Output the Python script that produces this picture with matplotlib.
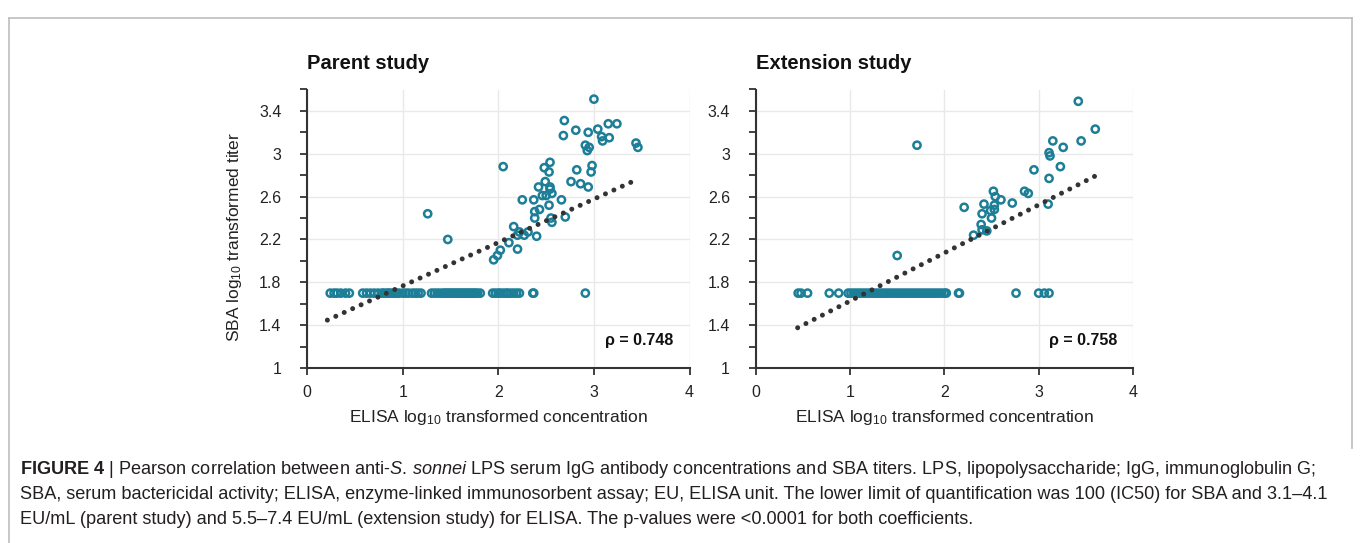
import matplotlib
matplotlib.use('Agg')
import matplotlib.pyplot as plt
from matplotlib.ticker import MultipleLocator, FuncFormatter
from matplotlib.lines import Line2D

plt.rcParams['font.family'] = ['Liberation Sans', 'DejaVu Sans']
plt.rcParams['mathtext.fontset'] = 'custom'
plt.rcParams['mathtext.rm'] = 'Liberation Sans'
plt.rcParams['mathtext.it'] = 'Liberation Sans:italic'
plt.rcParams['mathtext.bf'] = 'Liberation Sans:bold'

# ---------------- data ----------------
baseline_y = 1.699  # log10(50): below LLOQ

parent_x = [3.00, 2.69, 2.68, 2.81, 2.94, 3.04, 3.15, 3.24, 3.08, 3.09, 3.16, 2.91, 2.95,
            2.93, 3.44, 3.46, 2.05, 2.54, 2.48, 2.53, 2.82, 2.98, 2.97, 2.49, 2.42, 2.54,
            2.54, 2.76, 2.86, 2.94, 2.46, 2.50, 2.56, 2.25, 2.37, 2.66, 2.53, 2.43, 2.38,
            2.38, 2.55, 2.56, 2.70, 1.26, 1.47, 2.16, 2.22, 2.27, 2.31, 2.20, 2.40, 2.11,
            2.20, 2.02, 1.99, 1.95]
parent_y = [3.51, 3.31, 3.17, 3.22, 3.20, 3.23, 3.28, 3.28, 3.16, 3.12, 3.15, 3.08, 3.06,
            3.03, 3.10, 3.06, 2.88, 2.92, 2.87, 2.83, 2.85, 2.89, 2.83, 2.74, 2.69, 2.69,
            2.67, 2.74, 2.72, 2.69, 2.61, 2.61, 2.63, 2.57, 2.57, 2.57, 2.52, 2.48, 2.46,
            2.40, 2.40, 2.36, 2.41, 2.44, 2.20, 2.32, 2.27, 2.24, 2.27, 2.24, 2.23, 2.17,
            2.11, 2.10, 2.05, 2.01]
parent_base_x = [0.24, 0.28, 0.31, 0.35, 0.40, 0.44,
                 0.58, 0.62, 0.66, 0.70, 0.74, 0.78, 0.80, 0.83, 0.85, 0.87, 0.90, 0.93,
                 0.96, 1.00, 1.03, 1.06, 1.10, 1.13, 1.16, 1.19,
                 1.30, 1.33, 1.36, 1.39, 1.42, 1.44, 1.46, 1.48, 1.50, 1.52, 1.54, 1.56,
                 1.58, 1.60, 1.62, 1.64, 1.66, 1.68, 1.70, 1.72, 1.74, 1.76, 1.78, 1.81,
                 1.94, 1.97, 2.00, 2.02, 2.05, 2.08, 2.10, 2.13, 2.16, 2.19, 2.22,
                 2.36, 2.37, 2.91]

ext_x = [3.42, 3.60, 3.45, 3.15, 3.26, 3.11, 3.12, 1.71, 2.95, 3.23, 3.11, 3.10, 2.52,
         2.54, 2.60, 2.85, 2.89, 2.72, 2.21, 2.42, 2.53, 2.49, 2.53, 2.40, 2.50, 2.39,
         2.40, 2.45, 2.31, 1.50]
ext_y = [3.49, 3.23, 3.12, 3.12, 3.06, 3.01, 2.98, 3.08, 2.85, 2.88, 2.77, 2.53, 2.65,
         2.60, 2.57, 2.65, 2.63, 2.54, 2.50, 2.53, 2.52, 2.47, 2.48, 2.44, 2.40, 2.34,
         2.29, 2.28, 2.24, 2.05]
ext_base_x = [0.45, 0.48, 0.55, 0.78, 0.88,
              0.98, 1.01, 1.04, 1.07, 1.10, 1.13, 1.16, 1.19, 1.22, 1.25, 1.28, 1.31,
              1.34, 1.37, 1.40, 1.43, 1.46, 1.49, 1.52, 1.55, 1.58, 1.61, 1.64, 1.67,
              1.70, 1.73, 1.76, 1.79, 1.82, 1.85, 1.88, 1.91, 1.94, 1.97, 2.00, 2.02,
              2.15, 2.16, 2.76, 3.00, 3.06, 3.11]

# trend lines: (slope, intercept, x start, x end)
parent_fit = (0.405, 1.362, 0.21, 3.44)
ext_fit = (0.449, 1.176, 0.445, 3.62)

titles = ['Parent study', 'Extension study']
rho_labels = ['ρ = 0.748', 'ρ = 0.758']
x_ticks = [0, 1, 2, 3, 4]
y_ticks = [1, 1.4, 1.8, 2.2, 2.6, 3.0, 3.4]

caption_lines = [
    r"$\mathbf{FIGURE\ 4}$ | Pearson correlation between anti-$\mathit{S.\,sonnei}$ LPS serum IgG antibody concentrations and SBA titers. LPS, lipopolysaccharide; IgG, immunoglobulin G;",
    "SBA, serum bactericidal activity; ELISA, enzyme-linked immunosorbent assay; EU, ELISA unit. The lower limit of quantification was 100 (IC50) for SBA and 3.1–4.1",
    "EU/mL (parent study) and 5.5–7.4 EU/mL (extension study) for ELISA. The p-values were <0.0001 for both coefficients.",
]

# ---------------- figure ----------------
W, H = 1360, 543
fig = plt.figure(figsize=(W / 100, H / 100), dpi=100)
fig.patch.set_facecolor('white')

TEAL = '#1d7f97'
DARK = '#333333'


def px_axes(x0, x1, ytop, ybot):
    return fig.add_axes([x0 / W, (H - ybot) / H, (x1 - x0) / W, (ybot - ytop) / H])


ax_l = px_axes(307.3, 689.5, 89.5, 368)
ax_r = px_axes(755.7, 1133.0, 89.5, 368)

panels = [
    (ax_l, parent_x, parent_y, parent_base_x, parent_fit),
    (ax_r, ext_x, ext_y, ext_base_x, ext_fit),
]

for i, (ax, xs, ys, bx, fit) in enumerate(panels):
    ax.set_xlim(0, 4)
    ax.set_ylim(1, 3.6)
    ax.set_xticks(x_ticks)
    ax.set_yticks(y_ticks)
    ax.yaxis.set_minor_locator(MultipleLocator(0.2))
    fmt = FuncFormatter(lambda v, p: '%g' % round(v, 2))
    ax.xaxis.set_major_formatter(fmt)
    ax.yaxis.set_major_formatter(fmt)
    ax.grid(True, which='major', color='#e9e9e9', lw=1.0)
    ax.set_axisbelow(True)
    for s in ['top', 'right']:
        ax.spines[s].set_visible(False)
    for s in ['left', 'bottom']:
        ax.spines[s].set_color(DARK)
        ax.spines[s].set_linewidth(1.5)
    ax.tick_params(axis='both', which='both', direction='out', length=5, width=1.3,
                   color=DARK, labelsize=11.5, labelcolor='#222222')
    ax.tick_params(axis='y', which='both', pad=13.5)
    ax.tick_params(axis='x', which='major', pad=7)

    # scatter: baseline points and above-LLOQ points
    ax.scatter(bx, [baseline_y] * len(bx), s=27, facecolors='none', edgecolors=TEAL,
               linewidths=1.8, zorder=3, clip_on=False)
    ax.scatter(xs, ys, s=27, facecolors='none', edgecolors=TEAL, linewidths=1.8,
               zorder=3, clip_on=False)

    slope, icpt, xa, xb = fit
    ax.plot([xa, xb], [slope * xa + icpt, slope * xb + icpt], color=DARK, lw=3.6,
            ls=(0, (0.001, 1.85)), dash_capstyle='round', zorder=4)

    ax.text(0, 1.0725, titles[i], transform=ax.transAxes, fontsize=14.5,
            fontweight='bold', ha='left', va='baseline', color='#111111')
    ax.text(0.957, 0.097, rho_labels[i], transform=ax.transAxes, fontsize=11.5,
            fontweight='bold', ha='right', va='center', color='#111111')

    ax.set_xlabel('ELISA log$_{10}$ transformed concentration', fontsize=12.5,
                  color='#222222')
    ax.xaxis.set_label_coords(0.5, -0.142)

ax_l.set_ylabel('SBA log$_{10}$ transformed titer', fontsize=12.5, color='#222222')
ax_l.yaxis.set_label_coords(-0.166, 0.472)

# ---------------- outer border ----------------
BORDER = '#bdbdbd'


def fx(x):
    return x / W


def fy(y):
    return 1 - y / H


fig.add_artist(Line2D([fx(9), fx(1352)], [fy(18), fy(18)], color=BORDER, lw=1.2))
fig.add_artist(Line2D([fx(9), fx(9)], [fy(18), fy(543)], color=BORDER, lw=1.2))
fig.add_artist(Line2D([fx(1352), fx(1352)], [fy(18), fy(448)], color=BORDER, lw=1.2))

# ---------------- caption ----------------
renderer = fig.canvas.get_renderer()
probe = fig.text(0, 0, caption_lines[1], fontsize=12)
wpx = probe.get_window_extent(renderer).width
probe.remove()
cap_size = 12 * (1330 - 20) / wpx

for line, yb in zip(caption_lines, [473.5, 499.0, 524.5]):
    fig.text(fx(20), fy(yb), line, fontsize=cap_size, ha='left', va='baseline',
             color='#231f20')

fig.savefig('out.png', dpi=100, facecolor='white')
